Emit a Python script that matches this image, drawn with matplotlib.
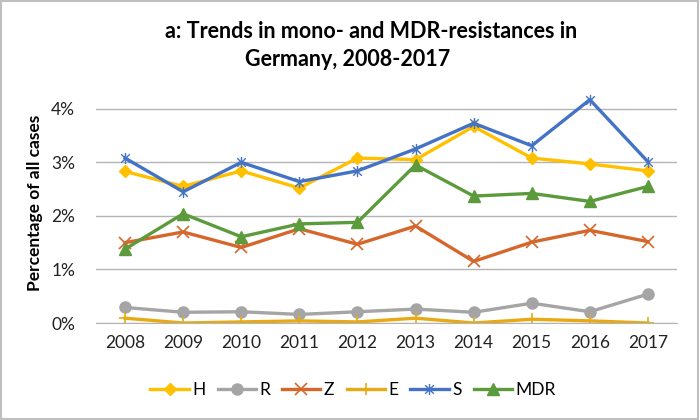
import matplotlib
matplotlib.use("Agg")
import matplotlib.pyplot as plt
from matplotlib.path import Path
from matplotlib.patches import Rectangle
from matplotlib.ticker import FuncFormatter

plt.rcParams["font.family"] = ["Lato", "DejaVu Sans"]

years = ["2008", "2009", "2010", "2011", "2012", "2013", "2014", "2015", "2016", "2017"]
H = [2.83, 2.55, 2.84, 2.52, 3.08, 3.05, 3.67, 3.08, 2.97, 2.84]
R = [0.29, 0.20, 0.21, 0.16, 0.21, 0.26, 0.20, 0.37, 0.21, 0.54]
Z = [1.50, 1.70, 1.41, 1.76, 1.47, 1.81, 1.15, 1.51, 1.73, 1.52]
E = [0.09, 0.00, 0.02, 0.04, 0.02, 0.09, 0.00, 0.07, 0.04, 0.00]
S = [3.08, 2.45, 3.00, 2.64, 2.84, 3.25, 3.73, 3.31, 4.17, 3.01]
MDR = [1.38, 2.04, 1.61, 1.85, 1.88, 2.95, 2.37, 2.42, 2.27, 2.55]

# excel-like "star" marker: X plus vertical bar
star = Path([(-1, -1), (1, 1), (-1, 1), (1, -1), (0, -1.3), (0, 1.3)],
            [Path.MOVETO, Path.LINETO, Path.MOVETO, Path.LINETO, Path.MOVETO, Path.LINETO])

series = [
    ("H", H, "#FFC000", "D", 6, None),
    ("R", R, "#A5A5A5", "o", 8, None),
    ("Z", Z, "#D5672C", "x", 9, 1.2),
    ("E", E, "#E8AA14", "+", 9, 1.2),
    ("S", S, "#4472C4", star, 8, 1.0),
    ("MDR", MDR, "#5C9B3C", "^", 8, None),
]

fig = plt.figure(figsize=(7, 4.2), dpi=100)
ax = fig.add_axes([96 / 700, 1 - 323 / 420, 581 / 700, 241 / 420])

x = list(range(len(years)))
for name, vals, col, mk, ms, mew in series:
    kw = dict(color=col, lw=2.4, marker=mk, markersize=ms, label=name,
              markerfacecolor=col, markeredgecolor=col)
    if mew is not None:
        kw["markeredgewidth"] = mew
    ax.plot(x, vals, **kw)

ax.set_xlim(-0.5, len(years) - 0.5)
ax.set_ylim(0, 4.5)
ax.set_yticks([0, 1, 2, 3, 4])
ax.yaxis.set_major_formatter(FuncFormatter(lambda v, p: f"{v:.0f}%"))
ax.set_xticks(x)
ax.set_xticklabels(years)
ax.grid(axis="y", color="#B4B4B4", lw=1)
ax.set_axisbelow(True)
for s in ["top", "right", "left"]:
    ax.spines[s].set_visible(False)
ax.spines["bottom"].set_color("#B4B4B4")
ax.tick_params(length=0, labelsize=12.5, colors="#222222", pad=9)
ax.tick_params(axis="y", pad=15)

ax.set_ylabel("Percentage of all cases", fontsize=12.5, fontweight="bold", labelpad=6)

fig.text(371 / 700, 1 - 32 / 420, "a: Trends in mono- and MDR-resistances in",
         ha="center", va="center", fontsize=15.5, fontweight="bold")
fig.text(348 / 700, 1 - 60 / 420, "Germany, 2008-2017",
         ha="center", va="center", fontsize=15.5, fontweight="bold")

fig.legend(loc="center", bbox_to_anchor=(353 / 700, 1 - 390 / 420), ncol=6,
           frameon=False, fontsize=12.5, handlelength=2.2, columnspacing=0.7,
           handletextpad=0.2)

fig.patches.append(Rectangle((0.001, 0.002), 0.996, 0.996, transform=fig.transFigure,
                             fill=False, edgecolor="#BFBFBF", lw=1.5))

fig.savefig("out.png", dpi=100)
